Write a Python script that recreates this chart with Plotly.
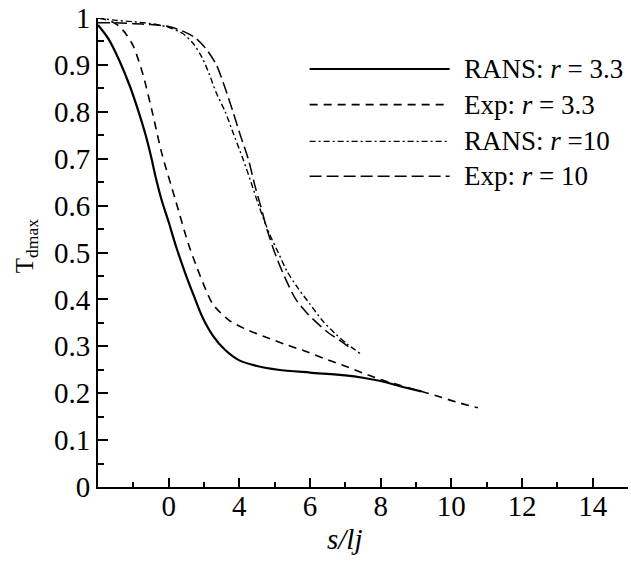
import plotly.graph_objects as go

# ---------------- data ----------------
rans33_x = [0.0, 0.3, 0.6, 0.9, 1.15, 1.35, 1.5, 1.65, 1.8, 2.0, 2.2, 2.45, 2.7, 2.95, 3.25, 3.6, 4.0, 4.5, 5.1, 6.0, 7.0, 7.5, 8.0, 8.5, 9.15]
rans33_y = [0.985, 0.955, 0.91, 0.855, 0.8, 0.75, 0.705, 0.655, 0.612, 0.565, 0.515, 0.46, 0.41, 0.363, 0.323, 0.292, 0.27, 0.258, 0.25, 0.244, 0.238, 0.233, 0.226, 0.216, 0.204]

exp33_x = [0.0, 0.3, 0.56, 0.8, 1.0, 1.27, 1.55, 1.8, 2.2, 2.55, 2.8, 3.0, 3.25, 3.7, 4.2, 4.7, 5.3, 5.85, 6.4, 6.95, 7.5, 8.0, 8.5, 9.0, 9.6, 10.15, 10.75]
exp33_y = [1.0, 0.995, 0.985, 0.965, 0.94, 0.88, 0.795, 0.713, 0.61, 0.52, 0.468, 0.43, 0.39, 0.356, 0.336, 0.321, 0.304, 0.29, 0.274, 0.259, 0.243, 0.229, 0.218, 0.207, 0.194, 0.181, 0.169]

rans10_x = [0.0, 0.5, 1.0, 1.5, 2.0, 2.4, 2.7, 2.95, 3.15, 3.35, 3.6, 3.85, 4.1, 4.33, 4.55, 4.85, 5.1, 5.35, 5.65, 6.0, 6.35, 6.7, 7.05, 7.45]
rans10_y = [1.0, 0.995, 0.992, 0.988, 0.98, 0.967, 0.945, 0.915, 0.88, 0.84, 0.8, 0.75, 0.7, 0.65, 0.6, 0.54, 0.5, 0.46, 0.425, 0.39, 0.355, 0.328, 0.305, 0.283]

exp10_x = [0.0, 0.5, 1.0, 1.5, 2.0, 2.4, 2.75, 3.05, 3.35, 3.6, 3.82, 4.05, 4.25, 4.45, 4.6, 4.8, 5.05, 5.3, 5.6, 5.95, 6.5, 6.85, 7.2]
exp10_y = [0.99, 0.99, 0.988, 0.986, 0.982, 0.972, 0.958, 0.935, 0.9, 0.85, 0.8, 0.745, 0.7, 0.64, 0.6, 0.545, 0.49, 0.445, 0.4, 0.368, 0.33, 0.312, 0.293]

series_names = ["RANS: <i>r</i> = 3.3", "Exp: <i>r</i> = 3.3", "RANS: <i>r</i> =10", "Exp: <i>r</i> = 10"]

x_tick_vals = [2, 4, 6, 8, 10, 12, 14]
x_tick_labels = ["0", "4", "6", "8", "10", "12", "14"]

# ---------------- styles ----------------
FONT = "Liberation Serif"
styles = [
    dict(color="black", width=2.2, dash="solid"),
    dict(color="black", width=1.6, dash="8px,6px"),
    dict(color="black", width=1.4, dash="6px,3px,2px,3px"),
    dict(color="black", width=1.5, dash="12px,5px"),
]
series = [(rans33_x, rans33_y), (exp33_x, exp33_y), (rans10_x, rans10_y), (exp10_x, exp10_y)]

fig = go.Figure()
for (xs, ys), name, st in zip(series, series_names, styles):
    fig.add_trace(go.Scatter(x=xs, y=ys, mode="lines", name=name,
                             line=dict(**st, shape="spline", smoothing=0.8),
                             showlegend=False))

W, H = 631, 561
ml, mr, mt, mb = 98.4, 2.7, 18.3, 73.5
pw, ph = W - ml - mr, H - mt - mb

def px_to_paper_x(px):
    return (px - ml) / pw

def px_to_paper_y(py):
    return (H - mb - py) / ph

# manual legend (long line samples like the reference)
legend_rows_py = [69.3, 105.0, 141.7, 176.7]
for name, st, py in zip(series_names, styles, legend_rows_py):
    yy = px_to_paper_y(py)
    fig.add_shape(type="line", xref="paper", yref="paper",
                  x0=px_to_paper_x(310), x1=px_to_paper_x(450), y0=yy, y1=yy,
                  line=st)
    fig.add_annotation(xref="paper", yref="paper", x=px_to_paper_x(462), y=yy,
                       text=name, showarrow=False, xanchor="left", yanchor="middle",
                       font=dict(family=FONT, size=27, color="black"))

# axis titles
fig.add_annotation(xref="paper", yref="paper", x=px_to_paper_x(345), y=px_to_paper_y(540),
                   text="<i>s/lj</i>", showarrow=False, xanchor="center", yanchor="middle",
                   font=dict(family=FONT, size=29, color="black"))
fig.add_annotation(xref="paper", yref="paper", x=px_to_paper_x(27), y=px_to_paper_y(247),
                   text="T<sub>dmax</sub>", showarrow=False, xanchor="center", yanchor="middle",
                   textangle=-90, font=dict(family=FONT, size=25, color="black"))

fig.update_layout(
    width=W, height=H,
    margin=dict(l=ml, r=mr, t=mt, b=mb, pad=0),
    paper_bgcolor="white", plot_bgcolor="white",
    font=dict(family=FONT, size=29, color="black"),
    showlegend=False,
)
fig.update_xaxes(
    range=[0, 15], showgrid=False, zeroline=False,
    showline=True, linecolor="black", linewidth=2,
    tickmode="array", tickvals=x_tick_vals, ticktext=x_tick_labels,
    ticks="inside", ticklen=9, tickwidth=2, tickcolor="black",
    ticklabelstandoff=-8,
    minor=dict(dtick=1, tick0=0, ticks="inside", ticklen=5, tickwidth=1.5, tickcolor="black"),
    tickfont=dict(family=FONT, size=29, color="black"),
)
fig.update_yaxes(
    range=[0, 1], showgrid=False, zeroline=False,
    showline=True, linecolor="black", linewidth=2,
    dtick=0.1, tick0=0,
    ticks="inside", ticklen=10, tickwidth=2, tickcolor="black",
    ticklabelstandoff=0,
    minor=dict(dtick=0.05, tick0=0, ticks="inside", ticklen=6, tickwidth=1.5, tickcolor="black"),
    tickfont=dict(family=FONT, size=29, color="black"),
)

fig.write_html("out.html")
